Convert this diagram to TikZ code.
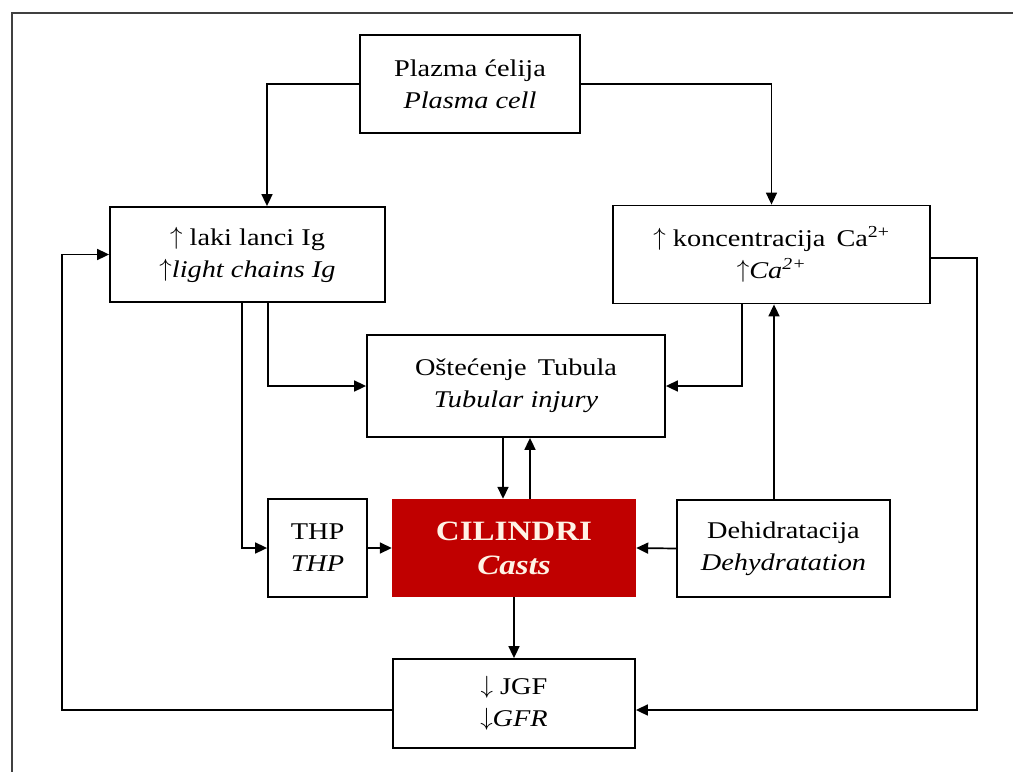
\documentclass[tikz,border=0pt]{standalone}
\usepackage{fontspec}
\setmainfont{Liberation Serif}[FakeStretch=1.18]
\usetikzlibrary{arrows.meta}
\definecolor{castred}{HTML}{C00000}
\definecolor{casttext}{HTML}{FFF3E6}
\newcommand{\upar}{\raisebox{1pt}{$\uparrow$}}
\newcommand{\dnar}{\raisebox{1pt}{$\downarrow$}}
\tikzset{
  box/.style={draw=black, line width=1.8pt, fill=white, align=center, inner sep=0pt,
    font=\fontsize{24}{32}\selectfont},
  castbox/.style={fill=castred, align=center, inner sep=0pt, text=casttext,
    font=\fontsize{28}{34}\selectfont\bfseries},
  arr/.style={line width=1.7pt, -{Triangle[length=12pt,width=11pt]}},
  frame/.style={line width=2.2pt, draw=black!75}
}
\begin{document}
\begin{tikzpicture}[x=1pt,y=-1pt]
\useasboundingbox (0,0) rectangle (1013,772);
% outer frame
\coordinate (ftl) at (12,13);
\coordinate (ftr) at (1013,13);
\coordinate (fbl) at (12,772);
\draw[frame] (ftr) -- (ftl) -- (fbl);

% nodes
\node[box, minimum width=220pt, minimum height=98pt] (plasma) at (470,84) {Plazma ćelija\\\textit{Plasma cell}};
\node[box, minimum width=275pt, minimum height=95pt] (light) at (247.5,254.5) {\upar\ laki lanci Ig\\\textit{\upar light chains Ig}};
\node[box, minimum width=317pt, minimum height=98pt] (ca) at (771.5,254.5) {\upar\ koncentracija\, Ca\textsuperscript{2+}\\\textit{\upar Ca\textsuperscript{2+}}};
\node[box, minimum width=298pt, minimum height=102pt] (tub) at (516,386) {Oštećenje\, Tubula\\\textit{Tubular injury}};
\node[box, minimum width=99pt, minimum height=98pt] (thp) at (317.5,548) {THP\\\textit{THP}};
\node[castbox, minimum width=244pt, minimum height=98pt] (casts) at (514,548) {CILINDRI\\\textit{Casts}};
\node[box, minimum width=213pt, minimum height=97pt] (dehyd) at (783.5,548.5) {Dehidratacija\\\textit{Dehydratation}};
\node[box, minimum width=242pt, minimum height=89pt] (gfr) at (514,703.5) {\dnar\ JGF\\\textit{\dnar GFR}};

% helper coordinates
\coordinate (xl1) at (267,0);
\coordinate (xl2) at (268,0);
\coordinate (xl3) at (242,0);
\coordinate (xc1) at (742,0);
\coordinate (xd) at (774,0);
\coordinate (xt1) at (503,0);
\coordinate (xt2) at (530,0);
\coordinate (rloop) at (977,258);
\coordinate (lloop) at (62,710);
\coordinate (yg) at (0,710);

% connectors
\draw[arr] (plasma.west) -| (light.north -| xl1);
\draw[arr] (plasma.east) -| (ca.north);
\draw[arr] (ca.east |- rloop) -- (rloop) |- (gfr.east |- yg);
\draw[arr] (gfr.west |- yg) -- (lloop) |- (light.west);
\draw[arr] (light.south -| xl2) |- (tub.west);
\draw[arr] (ca.south -| xc1) |- (tub.east);
\draw[arr] (light.south -| xl3) |- (thp.west);
\draw[arr] (thp.east) -- (casts.west);
\draw[arr] (dehyd.west) -- (casts.east);
\draw[arr] (dehyd.north -| xd) -- (ca.south -| xd);
\draw[arr] (tub.south -| xt1) -- (casts.north -| xt1);
\draw[arr] (casts.north -| xt2) -- (tub.south -| xt2);
\draw[arr] (casts.south) -- (gfr.north);
\end{tikzpicture}
\end{document}
